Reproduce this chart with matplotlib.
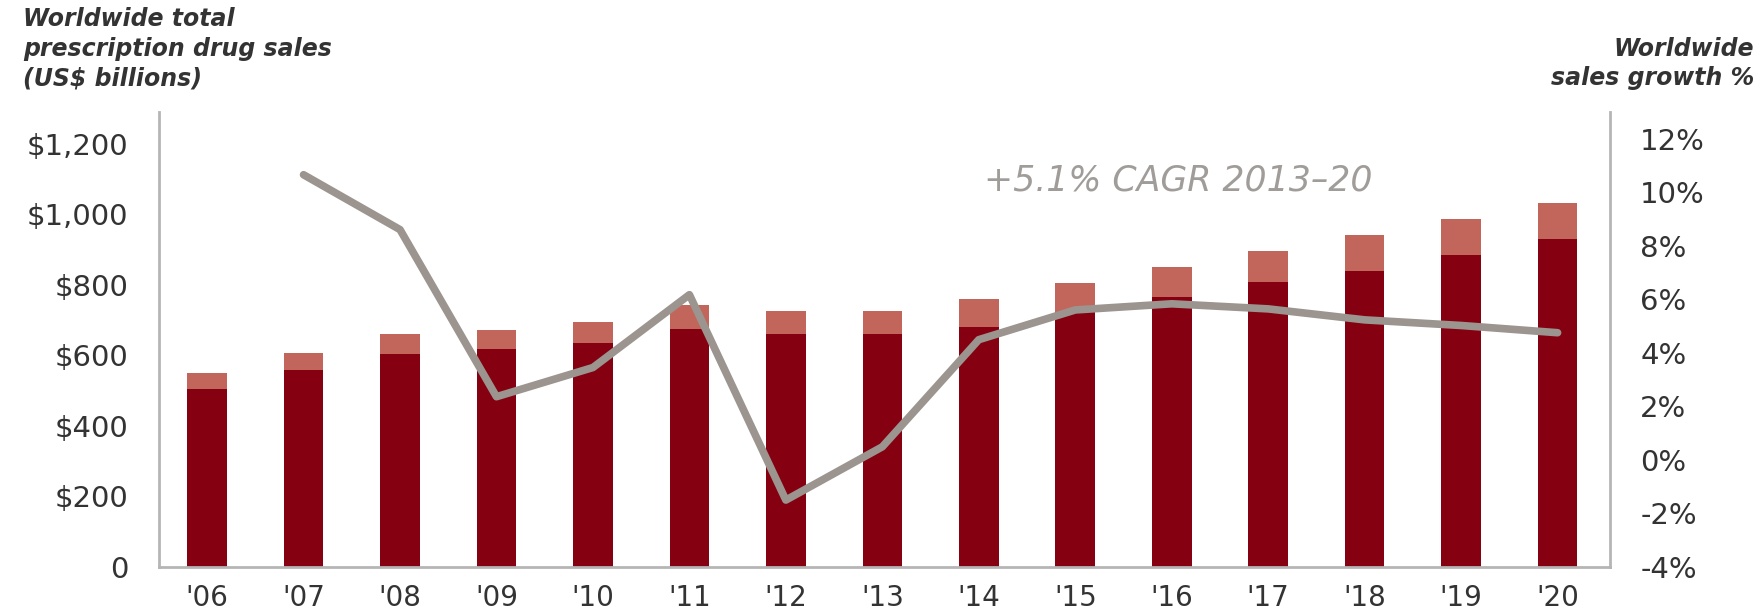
import matplotlib
matplotlib.use("Agg")
import matplotlib.pyplot as plt
import numpy as np

# data
years = ["'06", "'07", "'08", "'09", "'10", "'11", "'12", "'13",
         "'14", "'15", "'16", "'17", "'18", "'19", "'20"]
base_sales = [505, 559, 604, 618, 636, 675, 661, 661, 681, 722, 766, 808, 840, 885, 930]
total_sales = [550, 607, 661, 672, 695, 743, 726, 726, 760, 806, 851, 896, 940, 985, 1031]
growth_years = years[1:]
growth_pct = [10.65, 8.6, 2.36, 3.45, 6.17, -1.5, 0.49, 4.49, 5.6, 5.83, 5.64, 5.23, 5.02, 4.75]

left_ticks = [0, 200, 400, 600, 800, 1000, 1200]
left_labels = ["0", "$200", "$400", "$600", "$800", "$1,000", "$1,200"]
right_ticks = [-4, -2, 0, 2, 4, 6, 8, 10, 12]
right_labels = ["-4%", "-2%", "0%", "2%", "4%", "6%", "8%", "10%", "12%"]

DARK = "#850010"
LIGHT = "#c2665c"
LINE = "#9b948f"
SPINE = "#b5b5b5"
TXT = "#333333"

plt.rcParams['font.family'] = ['DejaVu Sans']
plt.rcParams['axes.unicode_minus'] = False

fig = plt.figure(figsize=(17.65, 6.11), dpi=100)
ax = fig.add_axes([0.090, 0.072, 0.822, 0.745])

x = np.arange(len(years))
top_part = np.array(total_sales) - np.array(base_sales)
ax.bar(x, base_sales, width=0.41, color=DARK, zorder=2)
ax.bar(x, top_part, width=0.41, bottom=base_sales, color=LIGHT, zorder=2)

ax.set_xlim(-0.5, 14.54)
ax.set_ylim(0, 1290)
ax.set_xticks(x)
ax.set_xticklabels(years)
ax.set_yticks(left_ticks)
ax.set_yticklabels(left_labels)
ax.tick_params(axis='x', length=0, pad=12, labelsize=20, colors=TXT)
ax.tick_params(axis='y', length=0, pad=22, labelsize=21, colors=TXT)

for side in ["top", "right"]:
    ax.spines[side].set_visible(False)
for side in ["left", "bottom"]:
    ax.spines[side].set_color(SPINE)
    ax.spines[side].set_linewidth(2)

ax2 = ax.twinx()
gx = np.arange(1, len(years))
ax2.plot(gx, growth_pct, color=LINE, linewidth=5.5, solid_capstyle='round',
         solid_joinstyle='round', zorder=3)
ax2.set_ylim(-4, 13)
ax2.set_yticks(right_ticks)
ax2.set_yticklabels(right_labels)
ax2.tick_params(axis='y', length=0, pad=22, labelsize=21, colors=TXT)
for side in ["top", "left", "bottom"]:
    ax2.spines[side].set_visible(False)
ax2.spines["right"].set_color(SPINE)
ax2.spines["right"].set_linewidth(2)

ax2.text(8.05, 10.45, "+5.1% CAGR 2013\u201320", color="#a09c99", fontsize=25,
         style='italic', ha='left', va='center')

fig.text(0.013, 0.988, "Worldwide total\nprescription drug sales\n(US$ billions)",
         fontsize=17, fontweight='bold', style='italic', color=TXT,
         ha='left', va='top', linespacing=1.3)
fig.text(0.994, 0.94, "Worldwide\nsales growth %",
         fontsize=17, fontweight='bold', style='italic', color=TXT,
         ha='right', va='top', linespacing=1.3, multialignment='right')

fig.savefig("out.png", dpi=100)
